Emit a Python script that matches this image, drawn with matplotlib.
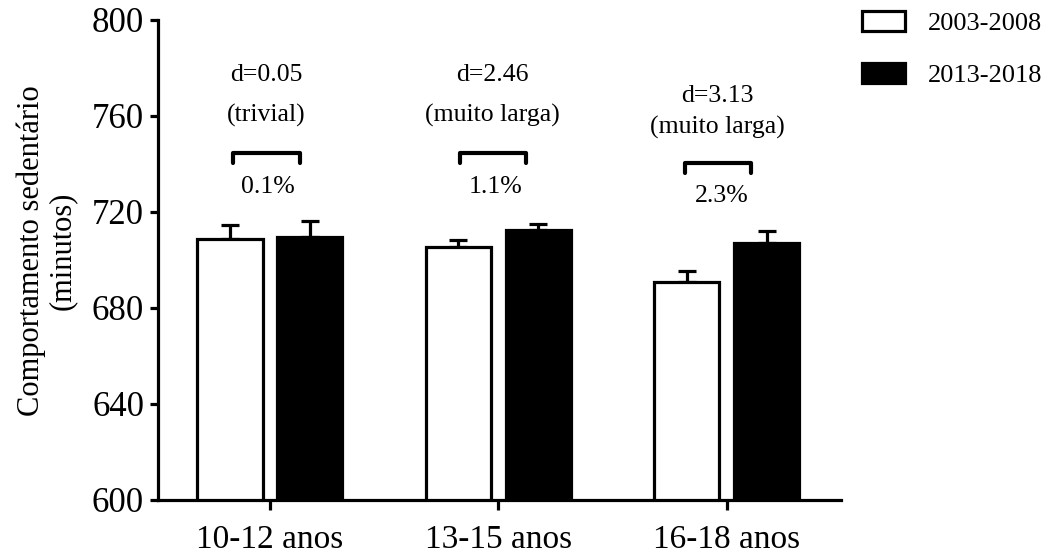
import numpy as np
import matplotlib
matplotlib.use('Agg')
from matplotlib import pyplot as plt
from matplotlib.patches import Patch

plt.rcParams['font.family'] = ['Liberation Serif', 'DejaVu Serif']

#%% data
groups = ['10-12 anos', '13-15 anos', '16-18 anos']
series = ['2003-2008', '2013-2018']
mean_0308 = [708.8, 705.5, 690.9]
err_0308 = [5.8, 2.8, 4.5]
mean_1318 = [709.7, 712.5, 707.0]
err_1318 = [6.7, 2.5, 5.2]
effect_d = ['d=0.05', 'd=2.46', 'd=3.13']
effect_lbl = ['(trivial)', '(muito larga)', '(muito larga)']
pct_diff = ['0.1%', '1.1%', '2.3%']

#%% plot
fig = plt.figure(figsize=(10.51, 5.56), dpi=100)
ax = fig.add_axes([158 / 1051, 1 - 500 / 556, (841 - 158) / 1051, 480 / 556])

x = np.arange(len(groups))
w = 0.285
off = 0.175
lw = 2.3

ax.bar(x - off, mean_0308, w, color='white', edgecolor='black', linewidth=lw, zorder=2)
ax.bar(x + off, mean_1318, w, color='black', edgecolor='black', linewidth=lw, zorder=2)
ax.errorbar(x - off, mean_0308, yerr=[np.zeros(3), err_0308], fmt='none',
            ecolor='black', elinewidth=lw, capsize=6.5, capthick=lw, zorder=1)
ax.errorbar(x + off, mean_1318, yerr=[np.zeros(3), err_1318], fmt='none',
            ecolor='black', elinewidth=lw, capsize=6.5, capthick=lw, zorder=1)

# effect size annotations
ann_y = [(777, 760.4, 744.7, 730.4), (777, 760.4, 744.7, 730.4), (768.3, 755.4, 740.4, 726.7)]
shift = [-0.015, -0.025, -0.04]
for i in range(len(groups)):
    cx = x[i] + shift[i]
    y1, y2, yb, y3 = ann_y[i]
    ax.text(cx, y1, effect_d[i], ha='center', va='center', fontsize=18.5)
    ax.text(cx, y2, effect_lbl[i], ha='center', va='center', fontsize=18.5)
    ax.plot([cx - 0.145, cx - 0.145, cx + 0.145, cx + 0.145],
            [yb - 4.3, yb, yb, yb - 4.3], color='black', lw=3, solid_capstyle='round',
            solid_joinstyle='round')
    ax.text(x[i] + shift[i] / 2, y3, pct_diff[i], ha='center', va='center', fontsize=18.5)

ax.set_ylim(600, 800)
ax.set_yticks(np.arange(600, 801, 40))
ax.set_xlim(-0.49, 2.5)
ax.set_xticks(x)
ax.set_xticklabels(groups)
ax.set_ylabel('Comportamento sedentário\n(minutos)', fontsize=22, linespacing=1.1)
ax.yaxis.set_label_coords(-0.119, 0.52)

for s in ['top', 'right']:
    ax.spines[s].set_visible(False)
for s in ['left', 'bottom']:
    ax.spines[s].set_linewidth(lw)
ax.tick_params(axis='both', width=lw, length=6, direction='out')
ax.tick_params(axis='y', labelsize=25, pad=4)
ax.tick_params(axis='x', labelsize=24, length=7.5, pad=10)

handles = [Patch(facecolor='white', edgecolor='black', linewidth=lw),
           Patch(facecolor='black', edgecolor='black', linewidth=lw)]
fig.legend(handles, series, loc='upper left', bbox_to_anchor=(862 / 1051, 1 - 11 / 556),
           frameon=False, fontsize=19, borderpad=0, borderaxespad=0,
           handlelength=1.63, handleheight=0.8, handletextpad=0.87, labelspacing=1.05)

fig.savefig('out.png', dpi=100)
